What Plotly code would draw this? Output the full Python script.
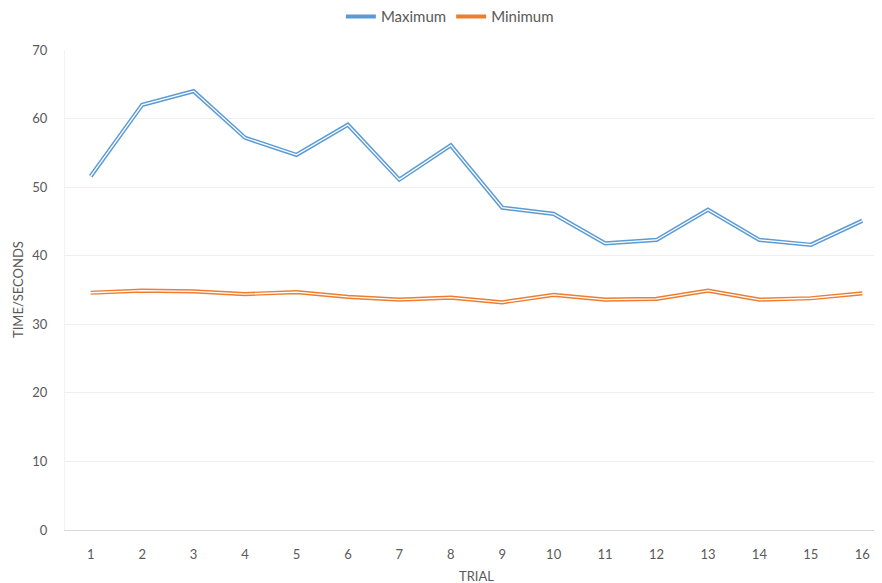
import plotly.graph_objects as go

trials = list(range(1, 17))
maximum = [51.6, 62.0, 64.0, 57.2, 54.7, 59.1, 51.1, 56.1, 47.0, 46.1, 41.8, 42.3, 46.7, 42.3, 41.6, 45.1]
minimum = [34.6, 34.9, 34.8, 34.4, 34.7, 34.0, 33.6, 33.9, 33.2, 34.3, 33.6, 33.7, 34.9, 33.6, 33.8, 34.5]

BLUE = "#5B9BD5"
ORANGE = "#ED7D31"
GREY = "#595959"
FONT = "Lato, Open Sans, sans-serif"

fig = go.Figure()
for name, vals, col in [("Maximum", maximum, BLUE), ("Minimum", minimum, ORANGE)]:
    fig.add_trace(go.Scatter(x=trials, y=vals, mode="lines", name=name,
                             line=dict(color=col, width=4.2), legendgroup=name))
    fig.add_trace(go.Scatter(x=trials, y=vals, mode="lines", name=name,
                             line=dict(color="white", width=1.3), legendgroup=name,
                             showlegend=False, hoverinfo="skip"))

fig.update_layout(
    width=882, height=583,
    margin=dict(l=57, r=2, t=42, b=61, autoexpand=False),
    paper_bgcolor="white", plot_bgcolor="white",
    font=dict(family=FONT, size=13, color=GREY),
    legend=dict(orientation="h", x=0.501, xanchor="center", xref="container",
                y=0.985, yanchor="middle", yref="container",
                font=dict(size=15, color=GREY), itemwidth=30, tracegroupgap=0),
    showlegend=True,
    annotations=[
        dict(text="TRIAL", x=0.5, xref="paper", y=-0.096, yref="paper",
             xanchor="center", yanchor="middle", showarrow=False,
             font=dict(size=13, color=GREY, family=FONT)),
        dict(text="TIME/SECONDS", x=-0.0571, xref="paper", y=0.5, yref="paper",
             xanchor="center", yanchor="middle", textangle=-90, showarrow=False,
             font=dict(size=13, color=GREY, family=FONT)),
    ],
)
fig.update_xaxes(
    range=[0.5, 16.5], tickmode="array", tickvals=trials, ticktext=[str(t) for t in trials],
    showgrid=False, zeroline=False, showline=True, linecolor="#D9D9D9", linewidth=1,
    ticks="outside", ticklen=12, tickcolor="rgba(0,0,0,0)", automargin=False,
    tickfont=dict(size=13, color=GREY),
)
fig.update_yaxes(
    range=[0, 70], dtick=10, showgrid=True, gridcolor="#EFEFEF", gridwidth=1,
    zeroline=False, showline=True, linecolor="#F2F2F2", automargin=False,
    ticks="outside", ticklen=14, tickcolor="rgba(0,0,0,0)",
    tickfont=dict(size=13, color=GREY),
)
fig.write_html("out.html")
